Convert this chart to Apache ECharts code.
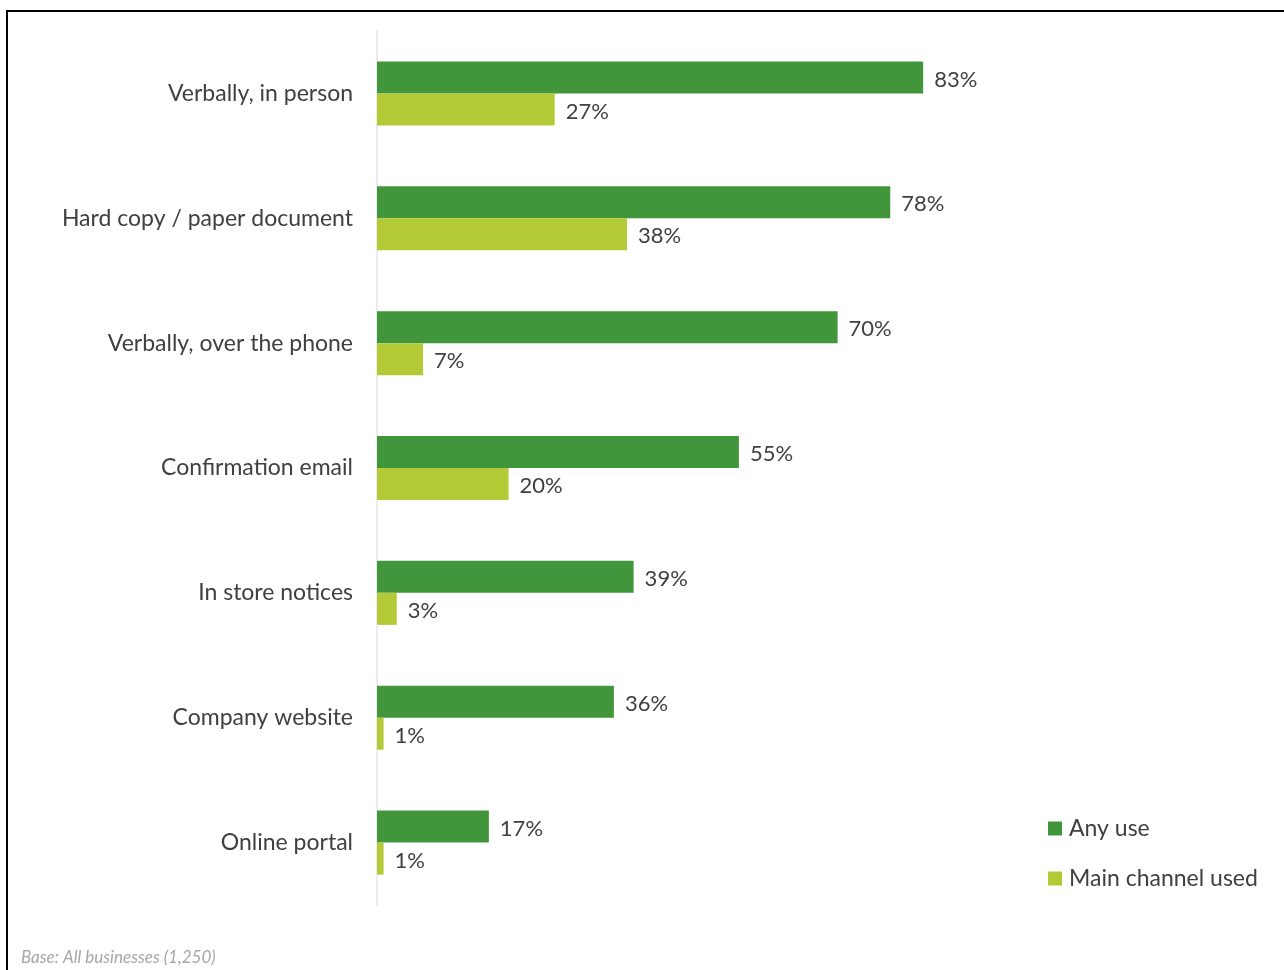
<!DOCTYPE html>
<html>
<head>
<meta charset="utf-8">
<script src="https://cdn.jsdelivr.net/npm/echarts@6/dist/echarts.min.js"></script>
<style>
html,body{margin:0;padding:0;background:#fff;}
#chart{width:1284px;height:970px;}
</style>
</head>
<body>
<div id="chart"></div>
<script>
const categories = ["Verbally, in person","Hard copy / paper document","Verbally, over the phone","Confirmation email","In store notices","Company website","Online portal"];
const anyUse = [83,78,70,55,39,36,17];
const mainChannel = [27,38,7,20,3,1,1];
const seriesNames = ["Any use","Main channel used"];
const footnote = "Base: All businesses (1,250)";

const FONT = "Lato, 'Liberation Sans', sans-serif";
const chart = echarts.init(document.getElementById('chart'), null, {renderer:'canvas'});
const labelStyle = {show:true, position:'right', distance:11, offset:[0,2], formatter:'{c}%', color:'#404040', fontSize:22, fontFamily:FONT};
chart.setOption({
  animation:false,
  backgroundColor:'#fff',
  grid:{left:377, right:249, top:31, bottom:65, containLabel:false},
  xAxis:{type:'value', min:0, max:100, show:false},
  yAxis:{type:'category', data:categories, inverse:true,
    axisLine:{show:true, lineStyle:{color:'#ececec', width:2}},
    axisTick:{show:false},
    axisLabel:{color:'#404040', fontSize:23, fontFamily:FONT, margin:24, padding:[7,0,0,0]}},
  legend:{orient:'vertical', left:1048, top:817, padding:0, itemWidth:14, itemHeight:14, itemGap:27, icon:'rect',
    textStyle:{color:'#404040', fontSize:23, fontFamily:FONT, padding:[0,0,0,2]},
    data:seriesNames},
  series:[
    {name:seriesNames[0], type:'bar', data:anyUse, barWidth:32, barGap:'0%', itemStyle:{color:'#41963C'}, label:labelStyle},
    {name:seriesNames[1], type:'bar', data:mainChannel, barWidth:32, barGap:'0%', itemStyle:{color:'#B3C935'}, label:labelStyle}
  ],
  graphic:[
    {type:'rect', shape:{x:7, y:11, width:1300, height:1000}, style:{fill:null, stroke:'#000', lineWidth:2}, z:100},
    {type:'text', left:21, top:949, style:{text:footnote, fill:'#a6a6a6', fontSize:17, fontStyle:'italic', fontFamily:FONT}}
  ]
});
</script>
</body>
</html>
